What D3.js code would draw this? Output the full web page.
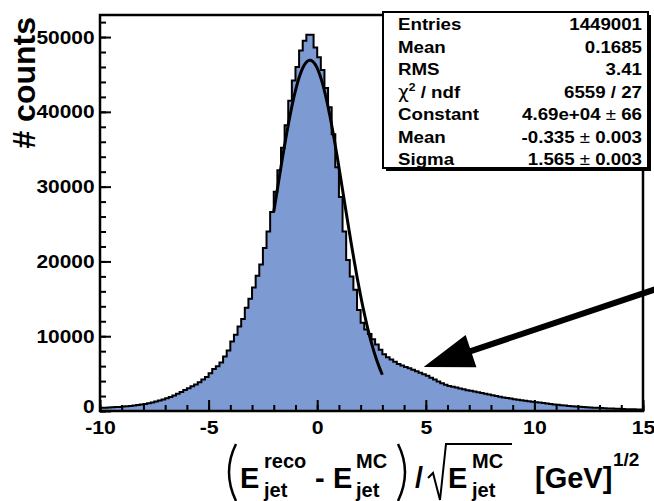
<!DOCTYPE html>
<html>
<head>
<meta charset="utf-8">
<script src="https://cdn.jsdelivr.net/npm/d3@7"></script>
<style>
  body { margin: 0; background: #fff; }
  text { font-family: "Liberation Sans", Arial, Helvetica, sans-serif; font-weight: bold; }
</style>
</head>
<body>
<div id="chart"></div>
<script>
// histogram range (150 bins of 1/6)
var X_MIN = -10, X_MAX = 15;
// bin contents
var BIN_COUNTS = [
  420, 440, 460, 490, 520, 550,
  590, 630, 680, 740, 800, 870,
  950, 1040, 1140, 1260, 1390, 1530,
  1700, 1880, 2080, 2300, 2550, 2800,
  3050, 3300, 3550, 3850, 4200, 4550,
  5050, 5600, 6000, 6500, 7300, 8100,
  9300, 10200, 11300, 12300, 13800, 15000,
  16500, 18100, 19600, 21800, 24000, 26600,
  29300, 32200, 35200, 38200, 41500, 44200,
  46000, 48200, 49500, 50300, 50300, 48600,
  47300, 45600, 43200, 40600, 37000, 32600,
  28600, 24000, 20200, 18000, 16200, 13500,
  11800, 10900, 10300, 9600, 8900, 8200,
  7600, 7200, 6900, 6600, 6300, 6100,
  5900, 5700, 5500, 5300, 5100, 4900,
  4700, 4450, 4200, 3950, 3700, 3500,
  3350, 3250, 3150, 3000, 2900, 2780,
  2700, 2600, 2500, 2400, 2300, 2200,
  2100, 2000, 1900, 1820, 1740, 1660,
  1580, 1500, 1430, 1360, 1300, 1240,
  1180, 1120, 1060, 1000, 940, 880,
  820, 770, 720, 680, 640, 600,
  570, 540, 510, 480, 450, 420,
  390, 370, 350, 330, 310, 290,
  270, 250, 235, 220, 205, 190
];
var X_TICKS = [-10, -5, 0, 5, 10, 15];
var Y_TICKS = [0, 10000, 20000, 30000, 40000, 50000];
var Y_MAX = 52950;
// gaussian fit parameters and range
var FIT_PARAMS = [46900, -0.335, 1.565];
var FIT_RANGE = [-2, 3];
// statistics box
var STAT_LABELS = ["Entries", "Mean", "RMS", "χ2 / ndf", "Constant", "Mean", "Sigma"];
var STAT_VALUES = ["1449001", "0.1685", "3.41", "6559 / 27", "4.69e+04 ± 66", "-0.335 ± 0.003", "1.565 ± 0.003"];
// arrow annotation (tip, tail) in data units
var ARROW_TIP = [4.9, 5900];
var ARROW_TAIL = [15.6, 16300];

function drawChart() {
    var W = 654, H = 501;
    var left = 100, right = 643, top = 15, bottom = 411;

    var svg = d3.select("#chart").append("svg")
        .attr("width", W).attr("height", H);

    var x = d3.scaleLinear().domain([X_MIN, X_MAX]).range([left, right]);
    var y = d3.scaleLinear().domain([0, Y_MAX]).range([bottom, top]);

    // histogram as a step outline
    var binW = (X_MAX - X_MIN) / BIN_COUNTS.length;
    var pts = [[X_MIN, 0]];
    BIN_COUNTS.forEach(function (c, i) {
        pts.push([X_MIN + i * binW, c]);
        pts.push([X_MIN + (i + 1) * binW, c]);
    });
    pts.push([X_MAX, 0]);
    var line = d3.line()
        .x(function (d) { return x(d[0]); })
        .y(function (d) { return y(d[1]); });
    svg.append("path")
        .attr("d", line(pts))
        .attr("fill", "#7d9ad2")
        .attr("stroke", "#000")
        .attr("stroke-width", 2)
        .attr("stroke-linejoin", "miter");

    // fit curve
    var fitPts = d3.range(0, 101).map(function (k) {
        var xv = FIT_RANGE[0] + (FIT_RANGE[1] - FIT_RANGE[0]) * k / 100;
        var z = (xv - FIT_PARAMS[1]) / FIT_PARAMS[2];
        return [xv, FIT_PARAMS[0] * Math.exp(-0.5 * z * z)];
    });
    svg.append("path")
        .attr("d", line(fitPts))
        .attr("fill", "none")
        .attr("stroke", "#000")
        .attr("stroke-width", 3);

    var label = function (d) { return String(d); };

    // minor ticks
    svg.append("g")
        .attr("transform", "translate(0," + bottom + ")")
        .call(d3.axisBottom(x).ticks(25).tickSize(-6).tickFormat("").tickSizeOuter(0))
        .call(function (g) { g.select(".domain").remove(); g.selectAll("line").attr("stroke-width", 2); });
    svg.append("g")
        .attr("transform", "translate(" + left + ",0)")
        .call(d3.axisLeft(y).tickValues(d3.range(0, Y_MAX, 2000)).tickSize(-6).tickFormat("").tickSizeOuter(0))
        .call(function (g) { g.select(".domain").remove(); g.selectAll("line").attr("stroke-width", 2); });

    // major ticks and labels
    var xAxis = svg.append("g")
        .attr("transform", "translate(0," + bottom + ")")
        .call(d3.axisBottom(x).tickValues(X_TICKS).tickSize(-11).tickPadding(10).tickSizeOuter(0).tickFormat(label));
    xAxis.selectAll("line").attr("stroke-width", 2);
    xAxis.selectAll("text")
        .attr("font-size", 19)
        .attr("font-family", "'Liberation Sans', Arial, sans-serif")
        .attr("fill", "#000")
        .attr("transform", "scale(1.12,1)");
    xAxis.select(".domain").remove();

    var yAxis = svg.append("g")
        .attr("transform", "translate(" + left + ",0)")
        .call(d3.axisLeft(y).tickValues(Y_TICKS).tickSize(-11).tickPadding(5).tickSizeOuter(0).tickFormat(label));
    yAxis.selectAll("line").attr("stroke-width", 2);
    yAxis.selectAll("text")
        .attr("font-size", 19)
        .attr("font-family", "'Liberation Sans', Arial, sans-serif")
        .attr("fill", "#000")
        .attr("transform", "scale(1.1,1)");
    yAxis.select(".domain").remove();
    // zero label sits a little above the axis line
    yAxis.selectAll(".tick text").filter(function (d) { return d === 0; }).attr("dy", "0.1em");

    // frame
    svg.append("rect")
        .attr("x", left).attr("y", top)
        .attr("width", right - left).attr("height", bottom - top)
        .attr("fill", "none").attr("stroke", "#000").attr("stroke-width", 2.5);

    // arrow
    var tx = x(ARROW_TIP[0]), ty = y(ARROW_TIP[1]);
    var ex = x(ARROW_TAIL[0]), ey = y(ARROW_TAIL[1]);
    var len = Math.hypot(ex - tx, ey - ty);
    var ux = (ex - tx) / len, uy = (ey - ty) / len;
    var headL = 50, headW = 17;
    svg.append("line")
        .attr("x1", tx + ux * (headL - 5)).attr("y1", ty + uy * (headL - 5))
        .attr("x2", ex).attr("y2", ey)
        .attr("stroke", "#000").attr("stroke-width", 6);
    var bx = tx + ux * headL, by = ty + uy * headL;
    svg.append("path")
        .attr("d", "M" + tx + "," + ty +
            "L" + (bx - uy * headW) + "," + (by + ux * headW) +
            "L" + (bx + uy * headW) + "," + (by - ux * headW) + "Z")
        .attr("fill", "#000");

    // stats box
    var bxL = 383, bxT = 12, bxW = 265, bxH = 156;
    svg.append("rect").attr("x", bxL + 3).attr("y", bxT + 3).attr("width", bxW).attr("height", bxH).attr("fill", "#000");
    svg.append("rect").attr("x", bxL).attr("y", bxT).attr("width", bxW).attr("height", bxH)
        .attr("fill", "#fff").attr("stroke", "#000").attr("stroke-width", 2);
    STAT_LABELS.forEach(function (lab, i) {
        var by0 = 30 + i * 22.5;
        var t = svg.append("text")
            .attr("transform", "translate(398," + by0 + ") scale(1.1,1)")
            .attr("font-size", 17);
        if (lab.indexOf("χ2") === 0) {
            t.append("tspan").attr("font-weight", "normal").attr("font-family", "'DejaVu Sans', sans-serif").text("χ");
            t.append("tspan").attr("font-size", 11).attr("dy", -7).text("2");
            t.append("tspan").attr("dy", 7).text(lab.slice(2));
        } else {
            t.text(lab);
        }
        var v = STAT_VALUES[i];
        var tv = svg.append("text")
            .attr("transform", "translate(642," + by0 + ") scale(1.1,1)")
            .attr("font-size", 17)
            .attr("text-anchor", "end");
        var parts = v.split("±");
        if (parts.length === 2) {
            tv.append("tspan").text(parts[0]);
            tv.append("tspan").attr("font-weight", "normal").text("±");
            tv.append("tspan").text(parts[1]);
        } else {
            tv.text(v);
        }
    });

    // y title
    svg.append("text")
        .attr("transform", "translate(35,17) rotate(-90)")
        .attr("text-anchor", "end")
        .attr("font-size", 32)
        .text("# counts");

    // x title
    function txt(px, py, s, size) {
        return svg.append("text").attr("x", px).attr("y", py).attr("font-size", size).text(s);
    }
    var base = 488, sup = 468, sub = 497;
    svg.append("path").attr("d", "M236,444 Q222,472 236,501").attr("fill", "none").attr("stroke", "#000").attr("stroke-width", 2.5);
    txt(240, base, "E", 29);
    txt(264, sup, "reco", 20);
    txt(264, sub, "jet", 20);
    txt(315, base, "-", 29);
    txt(333, base, "E", 29);
    txt(356, sup, "MC", 20);
    txt(356, sub, "jet", 20);
    svg.append("path").attr("d", "M398,444 Q412,472 398,501").attr("fill", "none").attr("stroke", "#000").attr("stroke-width", 2.5);
    txt(415, base, "/", 29);
    svg.append("path").attr("d", "M428,478 L433,473 L440,500 L446,444 L512,444")
        .attr("fill", "none").attr("stroke", "#000").attr("stroke-width", 2);
    txt(448, base, "E", 29);
    txt(472, sup, "MC", 20);
    txt(472, sub, "jet", 20);
    txt(535, base, "[GeV]", 29);
    txt(613, 466, "1/2", 19);
}

window.onload = drawChart;
</script>
</body>
</html>
